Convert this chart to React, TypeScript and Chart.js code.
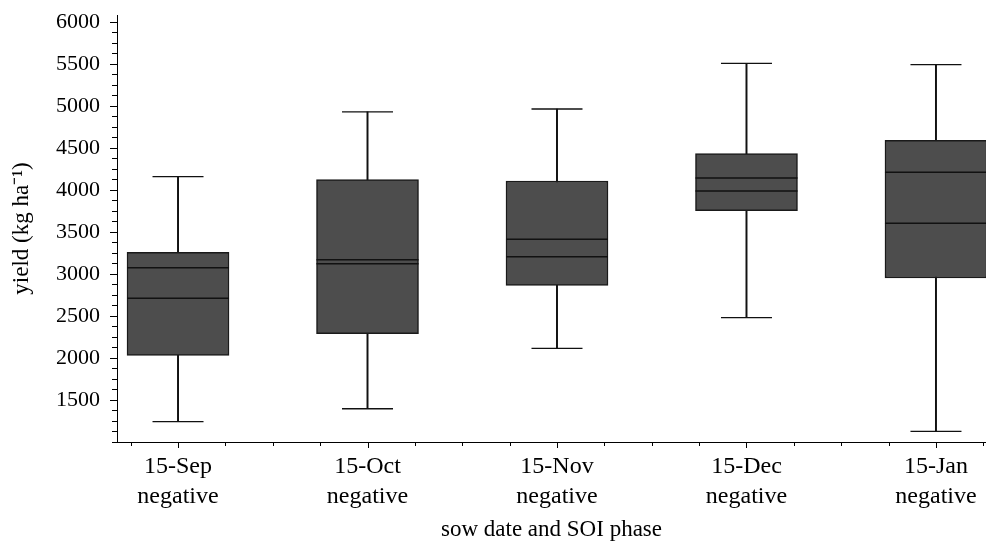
import React, { useEffect, useRef } from "react";
import { Chart, registerables } from "chart.js";

Chart.register(...registerables);

// Categories (two-line tick labels)
const sowDates = ["15-Sep", "15-Oct", "15-Nov", "15-Dec", "15-Jan"];
const soiPhases = ["negative", "negative", "negative", "negative", "negative"];

// Box-plot statistics (kg/ha)
const whiskerLow = [1242, 1396, 2115, 2480, 1127];
const quartile1 = [2032, 2289, 2865, 3754, 2952];
const innerLineLow = [2711, 3123, 3206, 3988, 3604];
const innerLineHigh = [3075, 3170, 3413, 4143, 4211];
const quartile3 = [3258, 4123, 4107, 4432, 4592];
const whiskerHigh = [4158, 4929, 4964, 5508, 5492];

// Y tick labels
const yTickValues = [1500, 2000, 2500, 3000, 3500, 4000, 4500, 5000, 5500, 6000];
const yMinorStep = 125;
const xMinorStep = 0.25;

const FONT = "'Liberation Serif', 'Times New Roman', Times, serif";

const tickMarksPlugin = {
  id: "tickMarks",
  afterDraw(chart: any) {
    const { ctx } = chart;
    const xs = chart.scales.x;
    const ys = chart.scales.y;
    ctx.save();
    ctx.strokeStyle = "#000";
    ctx.lineWidth = 1;
    ctx.beginPath();
    // y ticks
    const yStart = Math.ceil(ys.min / yMinorStep) * yMinorStep;
    for (let v = yStart; v <= ys.max + 1e-6; v += yMinorStep) {
      const major = yTickValues.includes(v);
      const py = Math.round(ys.getPixelForValue(v)) + 0.5;
      const len = major ? 7 : 5;
      ctx.moveTo(ys.right, py);
      ctx.lineTo(ys.right - len, py);
    }
    // x ticks
    const xStart = Math.ceil(xs.min / xMinorStep) * xMinorStep;
    for (let v = xStart; v <= xs.max + 1e-6; v += xMinorStep) {
      const major = Math.abs(v - Math.round(v)) < 1e-6;
      const px = Math.round(xs.getPixelForValue(v)) + 0.5;
      const len = major ? 6 : 4;
      ctx.moveTo(px, xs.top);
      ctx.lineTo(px, xs.top + len);
    }
    ctx.stroke();
    ctx.restore();
  },
};

export default function App() {
  const canvasRef = useRef<HTMLCanvasElement | null>(null);

  useEffect(() => {
    document.body.style.margin = "0";
    const canvas = canvasRef.current;
    if (!canvas) return;

    const boxData = sowDates.map((_, i) => ({ x: i, y: [quartile1[i], quartile3[i]] }));
    const whiskerData = sowDates.map((_, i) => ({ x: i, y: [whiskerLow[i], whiskerHigh[i]] }));
    const capData: any[] = [];
    sowDates.forEach((_, i) => {
      capData.push({ x: i, y: whiskerLow[i] });
      capData.push({ x: i, y: whiskerHigh[i] });
    });
    const innerData: any[] = [];
    sowDates.forEach((_, i) => {
      innerData.push({ x: i, y: innerLineLow[i] });
      innerData.push({ x: i, y: innerLineHigh[i] });
    });

    const chart = new Chart(canvas, {
      type: "bar",
      data: {
        datasets: [
          {
            type: "bar",
            label: "whisker",
            data: whiskerData as any,
            backgroundColor: "#111",
            borderWidth: 0,
            barThickness: 1.3,
            grouped: false,
            order: 4,
          } as any,
          {
            type: "scatter",
            label: "caps",
            data: capData,
            pointStyle: "line",
            pointRadius: 25.5,
            pointBorderWidth: 1.3,
            pointBorderColor: "#111",
            pointBackgroundColor: "#111",
            order: 3,
          } as any,
          {
            type: "bar",
            label: "box",
            data: boxData as any,
            backgroundColor: "#4d4d4d",
            borderColor: "#1a1a1a",
            borderWidth: 1.5,
            borderSkipped: false,
            barThickness: 102,
            grouped: false,
            order: 2,
          } as any,
          {
            type: "scatter",
            label: "inner",
            data: innerData,
            pointStyle: "line",
            pointRadius: 51,
            pointBorderWidth: 1.5,
            pointBorderColor: "#111",
            pointBackgroundColor: "#111",
            order: 1,
          } as any,
        ],
      },
      options: {
        animation: false,
        responsive: false,
        devicePixelRatio: 1,
        layout: { autoPadding: false, padding: { top: 15, right: 0, bottom: 0, left: 0 } },
        plugins: {
          legend: { display: false },
          tooltip: { enabled: false },
        },
        events: [],
        scales: {
          x: {
            type: "linear",
            min: -0.322,
            max: 4.264,
            offset: false,
            grid: { display: false, offset: false, drawTicks: false },
            border: { display: true, color: "#000", width: 1 },
            afterBuildTicks: (scale: any) => {
              scale.ticks = sowDates.map((_, i) => ({ value: i }));
            },
            afterFit: (scale: any) => {
              scale.height = 102;
              scale.paddingLeft = 0;
              scale.paddingRight = 0;
            },
            ticks: {
              color: "#000",
              padding: 10,
              maxRotation: 0,
              autoSkip: false,
              font: { family: FONT, size: 24, lineHeight: 30 / 24 },
              callback: (value: any) => {
                const i = Math.round(Number(value));
                return [sowDates[i], soiPhases[i]];
              },
            },
            title: {
              display: true,
              text: "sow date and SOI phase",
              color: "#000",
              font: { family: FONT, size: 23, lineHeight: 1.2 },
              padding: { top: 0, bottom: 0 },
            },
          },
          y: {
            type: "linear",
            min: 1000,
            max: 6083,
            grid: { display: false, drawTicks: false },
            border: { display: true, color: "#000", width: 1 },
            afterBuildTicks: (scale: any) => {
              scale.ticks = yTickValues.map((v) => ({ value: v }));
            },
            afterFit: (scale: any) => {
              scale.width = 117;
              scale.paddingTop = 0;
              scale.paddingBottom = 0;
            },
            ticks: {
              color: "#000",
              padding: 17,
              font: { family: FONT, size: 22 },
              callback: (value: any) => String(value),
            },
            title: {
              display: true,
              text: "yield (kg ha\u207B\u00B9)",
              color: "#000",
              font: { family: FONT, size: 23, lineHeight: 1.2 },
              padding: { top: 8, bottom: 0 },
            },
          },
        },
      },
      plugins: [tickMarksPlugin],
    });

    return () => {
      chart.destroy();
    };
  }, []);

  return (
    <div style={{ width: 986, height: 544 }}>
      <canvas ref={canvasRef} width={986} height={544} />
    </div>
  );
}
